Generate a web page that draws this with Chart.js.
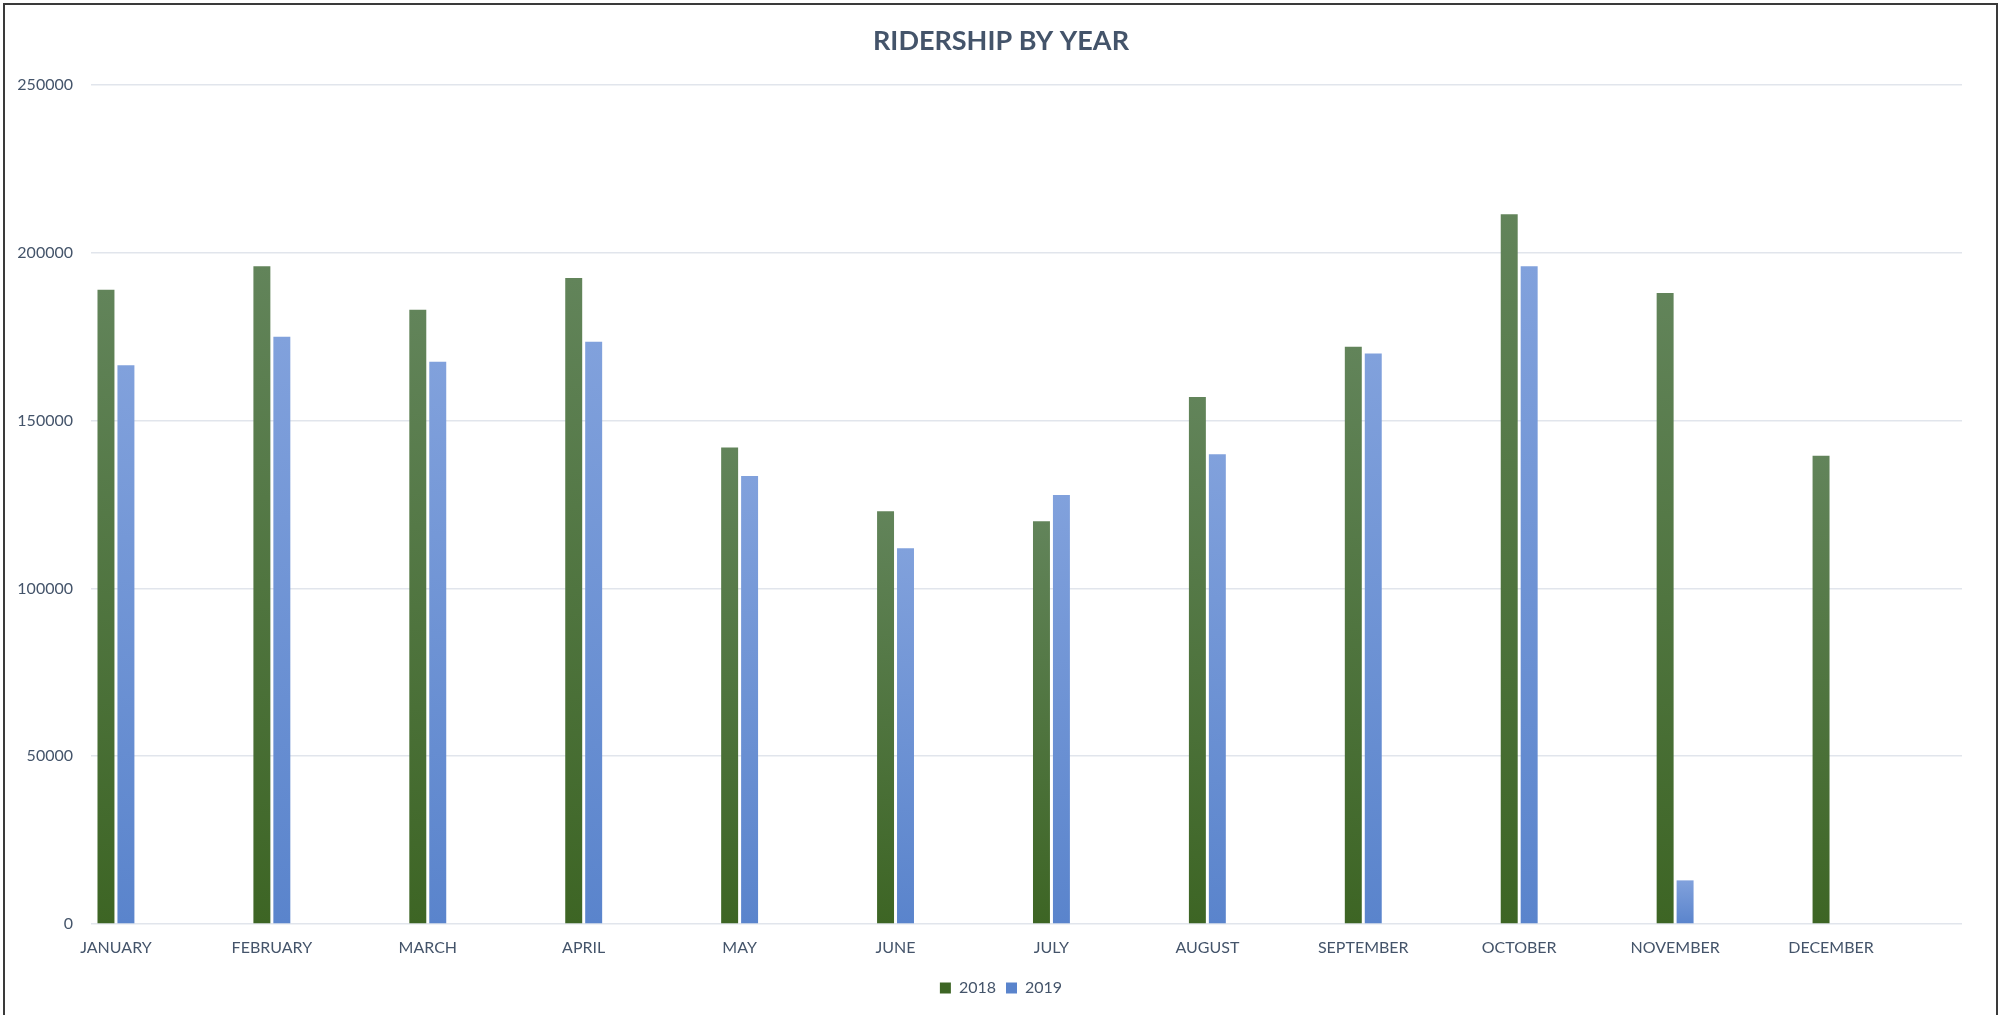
<!DOCTYPE html>
<html>
<head>
<meta charset="utf-8">
<title>Ridership by Year</title>
<script src="https://cdn.jsdelivr.net/npm/chart.js@4.4.1/dist/chart.umd.min.js"></script>
<style>
  html, body { margin: 0; padding: 0; background: #fff; overflow: hidden; }
  #wrap { position: relative; width: 2002px; height: 1015px; }
  #frame {
    position: absolute; left: 3px; top: 3px; width: 1991px; height: 1100px;
    border: 2px solid #3a3a3a; pointer-events: none;
  }
</style>
</head>
<body>
<div id="wrap">
  <canvas id="chart" width="2002" height="1015"></canvas>
  <div id="frame"></div>
</div>
<script>
const months = ['JANUARY', 'FEBRUARY', 'MARCH', 'APRIL', 'MAY', 'JUNE', 'JULY',
                'AUGUST', 'SEPTEMBER', 'OCTOBER', 'NOVEMBER', 'DECEMBER'];
const riders2018 = [189000, 196000, 183000, 192500, 142000, 123000, 120000, 157000, 172000, 211500, 188000, 139500];
const riders2019 = [166500, 175000, 167500, 173500, 133500, 112000, 127800, 140000, 170000, 196000, 13000, null];
const yTicks = [0, 50000, 100000, 150000, 200000, 250000];

const textColor = '#44546A';
const fontFamily = 'Lato, "Open Sans", sans-serif';

// Excel-style gradient per bar: lighter at the top, darker at the base
function barFill(topColor, baseColor) {
    return (ctx) => {
        const chart = ctx.chart;
        if (!chart.chartArea || ctx.type !== 'data' || !ctx.parsed || ctx.parsed.y == null) return baseColor;
        const ys = chart.scales.y;
        const yTop = ys.getPixelForValue(ctx.parsed.y);
        const yBase = ys.getPixelForValue(0);
        if (!isFinite(yTop) || yBase - yTop < 1) return baseColor;
        const g = chart.ctx.createLinearGradient(0, yTop, 0, yBase);
        g.addColorStop(0, topColor);
        g.addColorStop(1, baseColor);
        return g;
    };
}

const toPoints = (vals) => vals.map((v, i) => ({ x: i, y: v }));

new Chart(document.getElementById('chart').getContext('2d'), {
    type: 'bar',
    data: {
        datasets: [
            {
                label: '2018',
                data: toPoints(riders2018),
                backgroundColor: barFill('#62845a', '#3d6524'),
                categoryPercentage: 0.256,
                barPercentage: 0.85
            },
            {
                label: '2019',
                data: toPoints(riders2019),
                backgroundColor: barFill('#81a1dc', '#5a84cc'),
                categoryPercentage: 0.256,
                barPercentage: 0.85
            }
        ]
    },
    options: {
        responsive: false,
        animation: false,
        layout: { padding: { left: 0, right: 0, top: 4, bottom: 9 } },
        scales: {
            x: {
                type: 'linear',
                offset: false,
                min: -0.16,
                max: 11.84,
                grid: { display: false },
                border: { display: false },
                afterBuildTicks: (scale) => {
                    scale.ticks = months.map((_, i) => ({ value: i }));
                },
                afterFit: (scale) => { scale.height = 46; },
                ticks: {
                    autoSkip: false,
                    maxRotation: 0,
                    padding: 6,
                    color: textColor,
                    font: { family: fontFamily, size: 16 },
                    callback: (value) => months[value] ?? ''
                }
            },
            y: {
                min: 0,
                max: 250000,
                afterBuildTicks: (scale) => {
                    scale.ticks = yTicks.map(v => ({ value: v }));
                },
                afterFit: (scale) => { scale.width = 91; },
                grid: { color: '#e1e5ec', lineWidth: 1.5, drawTicks: false },
                border: { display: false },
                ticks: {
                    padding: 18,
                    color: textColor,
                    font: { family: fontFamily, size: 16 },
                    callback: (value) => String(value)
                }
            },
            // empty right-hand gutter so title and legend stay centred on the page
            yRight: {
                position: 'right',
                grid: { display: false },
                border: { display: false },
                ticks: { display: false },
                afterFit: (scale) => { scale.width = 40; }
            }
        },
        plugins: {
            title: {
                display: true,
                text: 'RIDERSHIP BY YEAR',
                color: textColor,
                font: { family: fontFamily, size: 27, weight: 'bold' },
                padding: { top: 21, bottom: 27.6 }
            },
            legend: {
                position: 'bottom',
                labels: {
                    color: textColor,
                    font: { family: fontFamily, size: 16 },
                    boxWidth: 11,
                    boxHeight: 11,
                    padding: 10
                }
            },
            tooltip: { enabled: false }
        }
    }
});
</script>
</body>
</html>
